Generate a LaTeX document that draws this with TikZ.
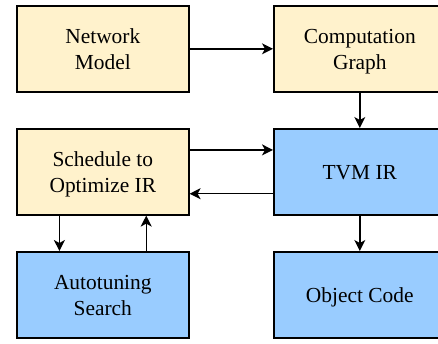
\documentclass[tikz,border=0pt]{standalone}
\usepackage{fontspec}
\setmainfont{Liberation Serif}
\newfontfamily\tnr{Liberation Serif}
\usetikzlibrary{calc,arrows.meta}
\definecolor{beige}{HTML}{FFF2CC}
\definecolor{lblue}{HTML}{99CCFF}
\newcommand{\tstrut}{\rule{0pt}{20bp}}
\newcommand{\bstrut}{\rule[-4.5bp]{0pt}{4.5bp}}
\begin{document}
\begin{tikzpicture}[x=1bp,y=-1bp,
  box/.style={draw=black,line width=1.6bp,rectangle,minimum width=172bp,minimum height=86bp,
    inner sep=0pt,anchor=north west,align=center,
    font=\tnr\fontsize{21.5}{25.5}\selectfont},
  yel/.style={box,fill=beige},
  blu/.style={box,fill=lblue},
  conn/.style={draw=black,line width=1.4bp,-{Stealth[length=11bp,width=11bp,inset=3bp]}}]
\useasboundingbox (0,0) rectangle (438,343);
\clip (0,0) rectangle (438,343);
\node[yel] (net) at (16,5) {\tstrut Network\\Model\bstrut};
\node[yel] (comp) at (273,5) {\tstrut Computation\\Graph\bstrut};
\node[yel] (sched) at (16,128) {\tstrut Schedule to\\Optimize IR\bstrut};
\node[blu] (tvm) at (273,128) {\tstrut TVM IR\bstrut};
\node[blu] (auto) at (16,251) {\tstrut Autotuning\\Search\bstrut};
\node[blu] (obj) at (273,251) {\tstrut Object Code\bstrut};
\draw[conn] (net.east) -- (comp.west);
\draw[conn] (comp.south) -- (tvm.north);
\draw[conn] ($(sched.north east)!.25!(sched.south east)$) -- ($(tvm.north west)!.25!(tvm.south west)$);
\draw[conn] ($(tvm.north west)!.75!(tvm.south west)$) -- ($(sched.north east)!.75!(sched.south east)$);
\draw[conn] ($(sched.south west)!.25!(sched.south east)$) -- ($(auto.north west)!.25!(auto.north east)$);
\draw[conn] ($(auto.north west)!.75!(auto.north east)$) -- ($(sched.south west)!.75!(sched.south east)$);
\draw[conn] (tvm.south) -- (obj.north);
\end{tikzpicture}
\end{document}
